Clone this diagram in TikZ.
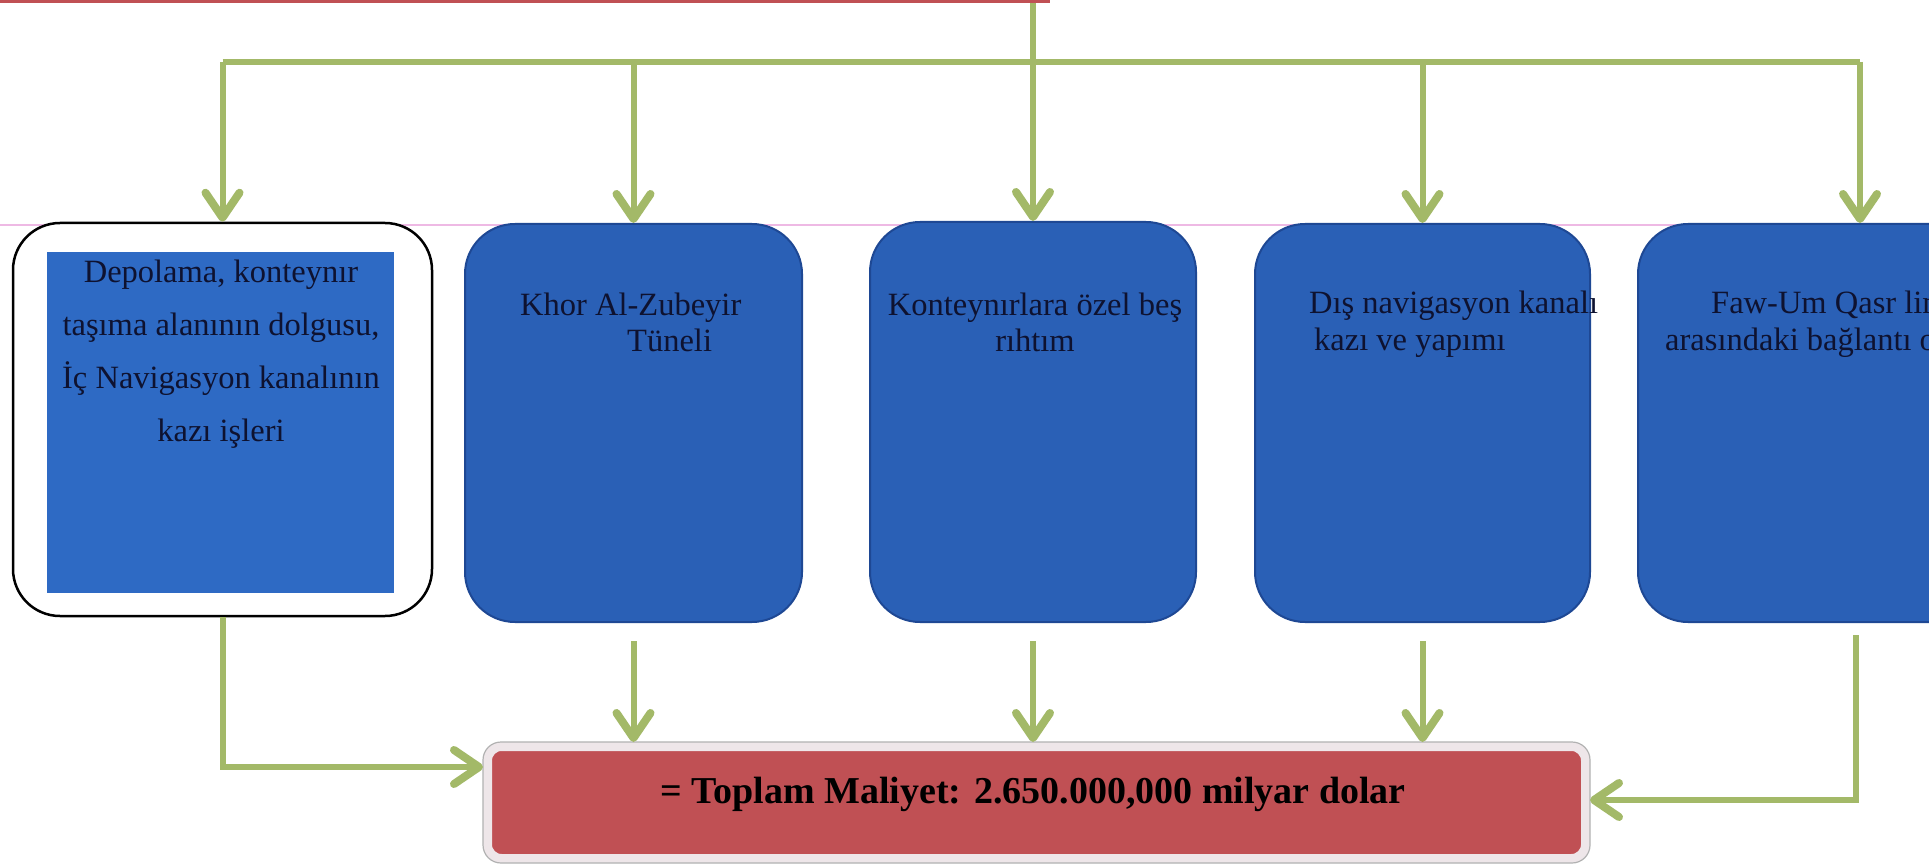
\documentclass[tikz,border=0pt]{standalone}
\usepackage{fontspec}
\setmainfont{Liberation Serif}
\usetikzlibrary{arrows.meta,calc}
\definecolor{boxblue}{RGB}{42,96,182}
\definecolor{boxblueedge}{RGB}{30,72,148}
\definecolor{innerblue}{RGB}{46,106,196}
\definecolor{arrgreen}{RGB}{163,185,104}
\definecolor{totred}{RGB}{192,80,84}
\definecolor{totedge}{RGB}{238,230,233}
\definecolor{txtcol}{RGB}{14,18,48}
\definecolor{guidecol}{RGB}{238,185,228}
\newcommand\myfs[2]{\fontsize{#1}{#2}\selectfont}
\begin{document}
\begin{tikzpicture}[x=1pt,y=-1pt,
  conn/.style={draw=arrgreen,line width=6pt},
  arr/.style={conn,-{Straight Barb[length=25pt,width=34pt,line width=8pt,round]}},
  bluebox/.style={rectangle,rounded corners=50pt,fill=boxblue,draw=boxblueedge,line width=2pt,inner sep=0pt},
  boxtext/.style={inner sep=0pt,text=txtcol,font=\myfs{32.5}{36}},
]
\useasboundingbox (0,0) rectangle (1929,866);
\clip (0,0) rectangle (1929,866);
\fill[white] (0,0) rectangle (1929,866);
\draw[guidecol,line width=1.5pt] (0,225) -- (1929,225);

% top red box (cut off)
\node[rectangle,fill=totred,minimum width=1110pt,minimum height=103pt,inner sep=0pt] (top) at (495,-48.5) {};

% boxes
\node[rectangle,rounded corners=47pt,fill=white,draw=black,line width=2.5pt,minimum width=419pt,minimum height=393pt,inner sep=0pt] (b1) at (222.5,419.5) {};
\node[rectangle,fill=innerblue,minimum width=347pt,minimum height=341pt,inner sep=0pt] (b1in) at (220.5,422.5) {};
\node[bluebox,minimum width=337pt,minimum height=398pt] (b2) at (633.5,423) {};
\node[bluebox,minimum width=326pt,minimum height=400pt] (b3) at (1033,422) {};
\node[bluebox,minimum width=335pt,minimum height=398pt] (b4) at (1422.5,423) {};
\node[bluebox,minimum width=444pt,minimum height=398pt] (b5) at (1860,423) {};

% texts (anchored at the baseline of their last line)
\node[boxtext,align=center,anchor=base,font=\myfs{32.5}{53}] (t1) at (221,441)
  {Depolama, konteynır\\taşıma alanının dolgusu,\\İç Navigasyon kanalının\\kazı işleri};
\node[boxtext,align=left,anchor=base west] (t2) at (520,352) {Khor Al-Zubeyir\\\hspace*{107pt}Tüneli};
\node[boxtext,align=center,anchor=base] (t3) at (1035,352) {Konteynırlara özel beş\\rıhtım};
\node[boxtext,align=left,anchor=base west] (t4) at (1309,350) {Dış navigasyon kanalı\\\hspace*{5pt}kazı ve yapımı};
\node[boxtext,align=left,anchor=base west] (t5) at (1665,350) {\hspace*{46pt}Faw-Um Qasr limanları\\arasındaki bağlantı otoyolu};

% total box
\node[rectangle,rounded corners=14pt,fill=totred,draw=totedge,line width=9pt,minimum width=1098pt,minimum height=112pt,inner sep=0pt] (total) at (1036.5,802.5) {};
\draw[black!30,line width=1.2pt,rounded corners=18pt] (total.north west) rectangle (total.south east);
\node[inner sep=0pt,anchor=base,text=black,font=\myfs{38}{44}\bfseries] (totaltext) at (1033,803) {= Toplam Maliyet: 2.650.000,000 milyar dolar};

% top connectors
\coordinate (bus) at (0,62);
\draw[conn] (b1.north |- bus) -- (b5.north |- bus);
\foreach \b in {b1,b2,b4,b5} \draw[arr] (\b.north |- bus) -- (\b.north);
\draw[arr] (top.south -| b3.north) -- (b3.north);

% bottom connectors
\foreach \b in {b2,b3,b4} \draw[arr] ($(\b.south)+(0,18)$) -- (\b.south |- total.north);
\coordinate (j1) at (220,767);
\draw[arr] (b1.south) -- (b1.south |- j1) -- (j1 -| total.west);
\coordinate (j5) at (1856,800);
\draw[arr] ($(b5.south -| j5)+(0,12)$) -- (j5) -- (j5 -| total.east);
\end{tikzpicture}
\end{document}
